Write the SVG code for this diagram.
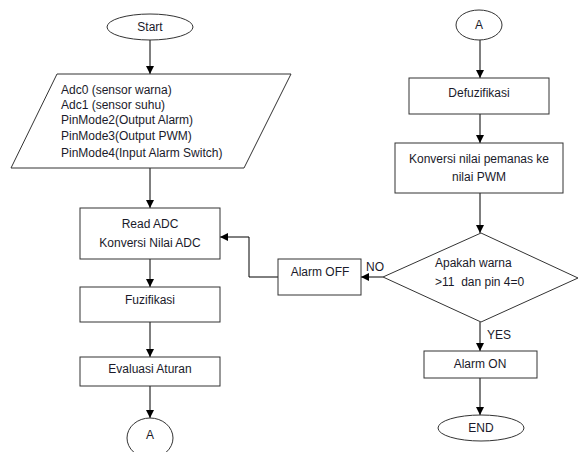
<svg xmlns="http://www.w3.org/2000/svg" width="578" height="452" viewBox="0 0 578 452">
<defs>
<marker id="ah" viewBox="0 0 10 10" refX="10" refY="5" markerWidth="8" markerHeight="8" markerUnits="userSpaceOnUse" orient="auto">
<path d="M0,0 L10,5 L0,10 z" fill="#000"/>
</marker>
<style>
.s{fill:#fff;stroke:#333;stroke-width:1}
.t{font-family:"Liberation Sans",Arial,sans-serif;font-size:12px;fill:#1a1a2a;white-space:pre}
.c{text-anchor:middle}
.e{fill:none;stroke:#000;stroke-width:1;marker-end:url(#ah)}
</style>
</defs>
<rect width="578" height="452" fill="#fff"/>
<g id="connectors">
<path class="e" d="M150,40 V74"/>
<path class="e" d="M150,168 V208"/>
<path class="e" d="M150,259 V287"/>
<path class="e" d="M150,322 V357"/>
<path class="e" d="M150,386 V418"/>
<path class="e" d="M480,40 V78"/>
<path class="e" d="M480,114 V143"/>
<path class="e" d="M480,193 V233"/>
<path class="e" d="M383,277 H361"/>
<path class="e" d="M480,322 V351"/>
<path class="e" d="M480,378 V415"/>
<path class="e" d="M278,277 H249 V237 H220"/>
<text class="t" x="366" y="271">NO</text>
<text class="t" x="487" y="339">YES</text>
</g>
<g id="start"><ellipse class="s" cx="150" cy="27" rx="43" ry="13"/><text class="t c" x="150" y="31">Start</text></g>
<g id="input"><polygon class="s" points="57,74 291,74 244,168 11,168"/>
<text class="t" x="61" y="94">Adc0 (sensor warna)</text>
<text class="t" x="61" y="109">Adc1 (sensor suhu)</text>
<text class="t" x="61" y="124">PinMode2(Output Alarm)</text>
<text class="t" x="61" y="140">PinMode3(Output PWM)</text>
<text class="t" x="61" y="157">PinMode4(Input Alarm Switch)</text></g>
<g id="readadc"><rect class="s" x="80" y="208" width="140" height="51"/>
<text class="t c" x="150" y="228">Read ADC</text><text class="t c" x="150" y="247">Konversi Nilai ADC</text></g>
<g id="fuzifikasi"><rect class="s" x="80" y="287" width="140" height="35"/><text class="t c" x="150" y="304">Fuzifikasi</text></g>
<g id="evaluasi"><rect class="s" x="80" y="357" width="140" height="29"/><text class="t c" x="150" y="373">Evaluasi Aturan</text></g>
<g id="a1"><ellipse class="s" cx="150" cy="438" rx="23" ry="20"/><text class="t c" x="150" y="439">A</text></g>
<g id="a2"><ellipse class="s" cx="479" cy="25" rx="23" ry="15"/><text class="t c" x="479" y="29">A</text></g>
<g id="defuzifikasi"><rect class="s" x="409" y="78" width="140" height="36"/><text class="t c" x="479" y="97">Defuzifikasi</text></g>
<g id="konversi"><rect class="s" x="395" y="143" width="168" height="50"/>
<text class="t c" x="479" y="163">Konversi nilai pemanas ke</text><text class="t c" x="479" y="181">nilai PWM</text></g>
<g id="decision"><polygon class="s" points="481,233 578,278 481,322 383,277"/>
<text class="t" x="435" y="267">Apakah warna</text><text class="t" x="435" y="286">&gt;11  dan pin 4=0</text></g>
<g id="alarmoff"><rect class="s" x="278" y="259" width="83" height="36"/><text class="t c" x="320" y="276">Alarm OFF</text></g>
<g id="alarmon"><rect class="s" x="424" y="351" width="113" height="27"/><text class="t c" x="480" y="368">Alarm ON</text></g>
<g id="end"><ellipse class="s" cx="481" cy="428" rx="43" ry="13"/><text class="t c" x="481" y="432">END</text></g>
</svg>
